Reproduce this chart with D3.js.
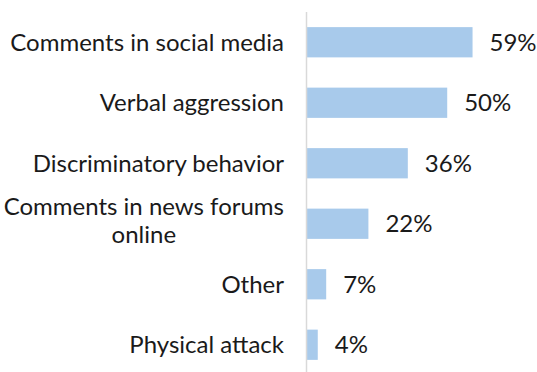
<!DOCTYPE html>
<html>
<head>
<meta charset="utf-8">
<script src="https://cdn.jsdelivr.net/npm/d3@7"></script>
<style>
  html, body { margin: 0; padding: 0; background: #fff; }
  svg { display: block; font-family: Lato, "Open Sans", sans-serif; }
</style>
</head>
<body>
<svg id="chart" width="537" height="372"></svg>
<script>
// Share of respondents by type of incident
const categories = [
  ["Comments in social media"],
  ["Verbal aggression"],
  ["Discriminatory behavior"],
  ["Comments in news forums", "online"],
  ["Other"],
  ["Physical attack"]
];
const values = [0.59, 0.50, 0.36, 0.22, 0.07, 0.04];
const valueLabels = ["59%", "50%", "36%", "22%", "7%", "4%"];

const svg = d3.select("#chart");
const axisX = 306.5;

const y = d3.scaleBand()
  .domain(d3.range(categories.length))
  .range([12, 375])
  .paddingInner(0.5)
  .paddingOuter(0.25);

const x = d3.scaleLinear()
  .domain([0, 0.7])
  .range([axisX, axisX + 197]);

// bars
svg.append("g").selectAll("rect")
  .data(values)
  .join("rect")
  .attr("x", x(0))
  .attr("y", (d, i) => y(i))
  .attr("width", d => x(d) - x(0))
  .attr("height", y.bandwidth())
  .attr("fill", "#a8caeb");

// category axis line
svg.append("line")
  .attr("x1", axisX).attr("x2", axisX)
  .attr("y1", 12).attr("y2", 372)
  .attr("stroke", "#d9d9d9")
  .attr("stroke-width", 1.5);

// category labels (multi-line labels are centred as a block, right-aligned to the axis)
const fontSize = 24;
const lineH = 27.5;
const labelRight = 284;
const lg = svg.append("g")
  .attr("font-size", fontSize)
  .attr("fill", "#1a1a1a");

categories.forEach((lines, i) => {
  const cy = y(i) + y.bandwidth() / 2;
  const t = lg.append("text").attr("text-anchor", "middle");
  const shift = lines.length > 1 ? "0.22em" : "0.35em";
  const spans = lines.map((s, k) => t.append("tspan")
    .attr("x", 0)
    .attr("y", cy + (k - (lines.length - 1) / 2) * lineH)
    .attr("dy", shift)
    .text(s));
  const w = d3.max(spans, sp => sp.node().getComputedTextLength());
  spans.forEach(sp => sp.attr("x", labelRight - w / 2));
});

// value labels
svg.append("g")
  .attr("font-size", fontSize)
  .attr("fill", "#1a1a1a")
  .selectAll("text")
  .data(values)
  .join("text")
  .attr("x", d => x(d) + 17)
  .attr("y", (d, i) => y(i) + y.bandwidth() / 2)
  .attr("dy", "0.35em")
  .text((d, i) => valueLabels[i]);
</script>
</body>
</html>
